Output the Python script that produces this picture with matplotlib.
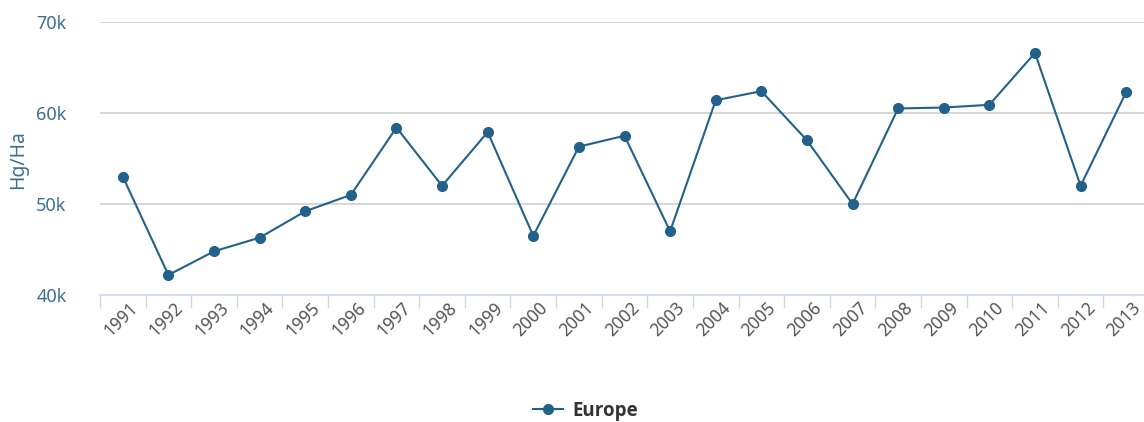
import numpy as np
import matplotlib.pyplot as plt
import matplotlib.transforms as mtransforms

plt.rcParams.update({
    "font.family": ["Noto Sans", "DejaVu Sans"],
})

years = [str(y) for y in range(1991, 2014)]
europe = [53.0, 42.2, 44.8, 46.3, 49.2, 51.0, 58.4, 52.0, 57.9, 46.5, 56.3, 57.5,
          47.0, 61.4, 62.4, 57.0, 50.0, 60.5, 60.6, 60.9, 66.6, 52.0, 62.3]
europe = np.array(europe) * 1000
y_ticks = [40000, 50000, 60000, 70000]
y_labels = ["40k", "50k", "60k", "70k"]

line_col = '#22618a'
axis_col = '#3b6f93'

fig = plt.figure(figsize=(11.44, 4.22), dpi=100)
ax = fig.add_axes([100/1144, 1 - 295/422, 1049/1144, 273/422])

x = np.arange(len(years))
ax.plot(x, europe, color=line_col, lw=1.5, marker='o', ms=7, label='Europe', zorder=3)

ax.set_xlim(-0.5, len(years) - 0.5)
ax.set_ylim(40000, 70000)
ax.set_yticks(y_ticks)
ax.set_yticklabels(y_labels, fontsize=13, color=axis_col)
ax.tick_params(axis='y', length=0, pad=24)
for yv in y_ticks[1:]:
    ax.axhline(yv, color='#cfcfcf', lw=1.2, zorder=1)

ax.set_xticks(x)
ax.set_xticklabels(years, rotation=45, ha='right', va='center', rotation_mode='anchor',
                   fontsize=12.5, color='#555555')
ax.tick_params(axis='x', which='major', length=0, pad=7)
offset = mtransforms.ScaledTranslation(12/100, 0, fig.dpi_scale_trans)
for lbl in ax.get_xticklabels():
    lbl.set_transform(lbl.get_transform() + offset)
ax.set_xticks(np.arange(-0.5, len(years)), minor=True)
ax.tick_params(axis='x', which='minor', length=9, width=1, color='#ccd6eb')

for s in ['top', 'right', 'left']:
    ax.spines[s].set_visible(False)
ax.spines['bottom'].set_color('#ccd6eb')
ax.spines['bottom'].set_linewidth(1.2)

fig.text(18/1144, 1 - 160/422, 'Hg/Ha', rotation=90, ha='center', va='center',
         fontsize=14, color=axis_col)

leg = fig.legend(loc='center', bbox_to_anchor=(585/1144, 11/422), frameon=False,
                 prop={'family': 'Open Sans', 'weight': 'bold', 'stretch': 'normal', 'size': 13.5},
                 handlelength=1.6, handletextpad=0.5)
for t in leg.get_texts():
    t.set_color('#333333')

fig.savefig('out.png', dpi=100)
